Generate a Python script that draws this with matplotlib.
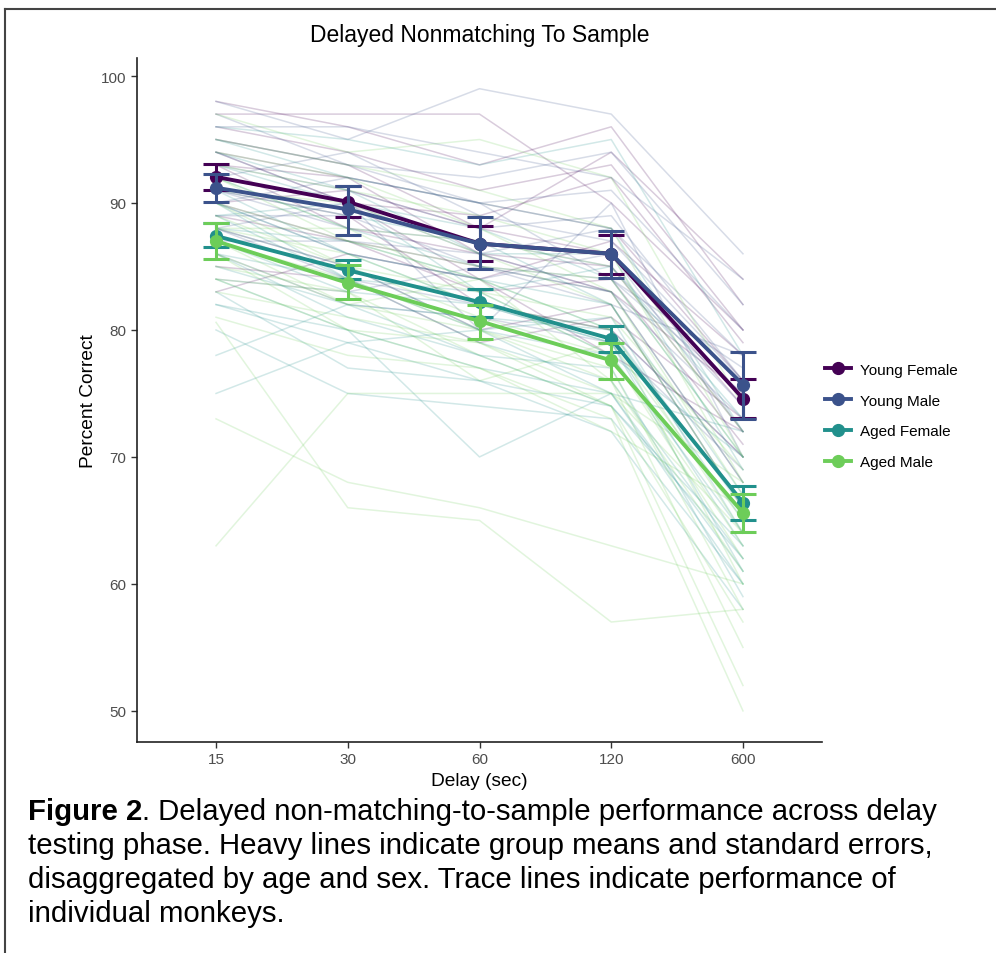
import numpy as np
import matplotlib
matplotlib.use("Agg")
import matplotlib.pyplot as plt
from matplotlib.lines import Line2D

plt.rcParams['font.family'] = ['Liberation Sans', 'DejaVu Sans']

# delay categories
delays = ['15', '30', '60', '120', '600']
groups = ['Young Female', 'Young Male', 'Aged Female', 'Aged Male']
colors = ['#440154', '#3B528B', '#21908C', '#6DCD59']

# group means and standard error caps
mean_yf = [92.05, 90.1, 86.8, 86.0, 74.6]
hi_yf = [93.1, 91.3, 88.2, 87.5, 76.1]
lo_yf = [91.0, 88.9, 85.4, 84.4, 73.1]

mean_ym = [91.2, 89.5, 86.8, 86.0, 75.7]
hi_ym = [92.3, 91.3, 88.9, 87.8, 78.3]
lo_ym = [90.1, 87.5, 84.8, 84.1, 73.0]

mean_af = [87.4, 84.7, 82.2, 79.3, 66.4]
hi_af = [88.4, 85.5, 83.2, 80.3, 67.7]
lo_af = [86.5, 84.0, 81.0, 78.3, 65.0]

mean_am = [87.0, 83.7, 80.7, 77.6, 65.6]
hi_am = [88.4, 85.1, 82.0, 79.0, 67.1]
lo_am = [85.6, 82.4, 79.3, 76.1, 64.1]

# individual monkeys (trace lines, estimated)
traces_yf = [
    [98, 96, 93, 96, 82], [97, 97, 97, 90, 80], [95, 93, 88, 94, 84],
    [94, 92, 90, 88, 76], [93, 88, 86, 85, 72], [92, 90, 84, 87, 78],
    [91, 89, 82, 80, 70], [90, 91, 88, 86, 74], [89, 87, 85, 83, 68],
    [88, 85, 80, 82, 66], [93, 92, 86, 83, 75], [85, 84, 79, 81, 73],
    [96, 94, 91, 93, 80], [94, 90, 89, 92, 79], [90, 87, 83, 84, 71],
    [83, 86, 84, 78, 72],
]
traces_ym = [
    [98, 95, 99, 97, 86], [96, 96, 94, 92, 84], [95, 93, 90, 91, 80],
    [94, 90, 86, 88, 78], [92, 94, 89, 87, 76], [91, 88, 87, 85, 74],
    [90, 86, 84, 86, 72], [89, 89, 85, 84, 77], [88, 84, 82, 80, 70],
    [87, 87, 86, 83, 73], [86, 82, 81, 79, 69], [88, 90, 80, 90, 70],
    [97, 93, 92, 94, 82], [93, 91, 88, 89, 76], [90, 92, 90, 84, 75],
    [84, 83, 85, 82, 78],
]
traces_af = [
    [96, 95, 93, 95, 78], [95, 92, 90, 88, 72], [93, 90, 88, 84, 70],
    [92, 88, 85, 83, 68], [91, 89, 87, 82, 66], [90, 86, 84, 80, 65],
    [89, 84, 83, 78, 64], [88, 85, 80, 81, 64], [87, 83, 82, 79, 63],
    [86, 84, 79, 76, 62], [85, 82, 78, 74, 63], [84, 80, 77, 75, 61],
    [83, 77, 76, 72, 58], [82, 80, 70, 75, 60], [80, 75, 74, 73, 60],
    [78, 82, 81, 80, 66], [75, 79, 80, 78, 70], [90, 84, 80, 75, 72],
    [94, 91, 86, 86, 69], [91, 86, 82, 79, 61], [88, 87, 84, 82, 67],
    [86, 81, 78, 77, 59], [82, 79, 76, 74, 62], [89, 90, 83, 85, 73],
]
traces_am = [
    [97, 94, 95, 92, 74], [95, 93, 91, 88, 70], [93, 91, 89, 86, 68],
    [92, 88, 87, 85, 72], [91, 90, 86, 82, 66], [90, 87, 84, 80, 64],
    [89, 85, 83, 78, 62], [88, 86, 82, 80, 60], [87, 84, 80, 77, 58],
    [86, 82, 80, 76, 55], [85, 83, 78, 74, 52], [84, 80, 77, 73, 50],
    [83, 81, 79, 75, 64], [81, 78, 77, 72, 66], [80.6, 66, 65, 57, 58],
    [73, 68, 66, 63, 60], [63, 75, 75, 75, 68], [92, 87, 85, 84, 70],
    [94, 92, 88, 83, 67], [90, 85, 81, 78, 63], [88, 88, 83, 81, 69],
    [86, 80, 79, 74, 57], [84, 83, 76, 79, 65], [87, 82, 84, 76, 61],
]

caption_bold = 'Figure 2'
caption_lines = [
    '. Delayed non-matching-to-sample performance across delay',
    'testing phase. Heavy lines indicate group means and standard errors,',
    'disaggregated by age and sex. Trace lines indicate performance of',
    'individual monkeys.',
]


def main():
    W, H = 996, 954
    fig = plt.figure(figsize=(W / 100, H / 100), dpi=100)
    ax = fig.add_axes([137 / W, 1 - 743 / H, (822 - 137) / W, (743 - 58.6) / H])

    x = np.arange(1, len(delays) + 1)

    #* trace lines
    all_traces = [traces_yf, traces_ym, traces_af, traces_am]
    for tr, col in zip(all_traces, colors):
        for t in tr:
            ax.plot(x, t, color=col, alpha=0.2, lw=1.1, zorder=1)

    #* group means with error bars
    means = [mean_yf, mean_ym, mean_af, mean_am]
    his = [hi_yf, hi_ym, hi_af, hi_am]
    los = [lo_yf, lo_ym, lo_af, lo_am]
    for k, (m, hi, lo, col) in enumerate(zip(means, his, los, colors)):
        m = np.array(m)
        yerr = [m - np.array(lo), np.array(hi) - m]
        ax.errorbar(x, m, yerr=yerr, color=col, lw=2.8, elinewidth=2.2,
                    capsize=9.5, capthick=2.2, marker='o', ms=8.5,
                    zorder=3 + k)

    ax.set_xlim(0.4, 5.6)
    ax.set_ylim(47.55, 101.45)
    ax.set_xticks(x)
    ax.set_xticklabels(delays)
    ax.set_yticks([50, 60, 70, 80, 90, 100])
    ax.tick_params(labelsize=11, colors='#333333', labelcolor='#4D4D4D',
                   length=4, width=1)
    for s in ['top', 'right']:
        ax.spines[s].set_visible(False)
    for s in ['left', 'bottom']:
        ax.spines[s].set_linewidth(1.2)
        ax.spines[s].set_color('#222222')

    ax.set_xlabel('Delay (sec)', fontsize=13.75, labelpad=4)
    ax.set_ylabel('Percent Correct', fontsize=13.75, labelpad=3)
    ax.set_title('Delayed Nonmatching To Sample', fontsize=16.5, pad=12)

    #* legend
    handles = [Line2D([0], [0], color=c, lw=2.8, marker='o', ms=8.5)
               for c in colors]
    fig.legend(handles, groups, loc='center left', frameon=False,
               bbox_to_anchor=(811 / W, 1 - 417 / H), fontsize=11,
               handlelength=1.7, labelspacing=1.1, handletextpad=0.6)

    #* frame around figure
    fig.add_artist(Line2D([5 / W, 5 / W], [0, 1 - 10 / H],
                          transform=fig.transFigure, color='#444444', lw=1.5))
    fig.add_artist(Line2D([5 / W, 1], [1 - 10 / H, 1 - 10 / H],
                          transform=fig.transFigure, color='#444444', lw=1.5))

    #* caption
    fig.canvas.draw()
    r = fig.canvas.get_renderer()
    y0 = 812
    fs = 21.2
    t = fig.text(28 / W, 1 - y0 / H, caption_bold, fontsize=fs,
                 fontweight='bold', va='center', ha='left')
    bb = t.get_window_extent(renderer=r)
    fig.text(bb.x1 / W, 1 - y0 / H, caption_lines[0], fontsize=fs,
             va='center', ha='left')
    for i, line in enumerate(caption_lines[1:]):
        fig.text(28 / W, 1 - (y0 + 34 * (i + 1)) / H, line, fontsize=fs,
                 va='center', ha='left')

    fig.savefig('out.png', dpi=100)


if __name__ == "__main__":
    main()
